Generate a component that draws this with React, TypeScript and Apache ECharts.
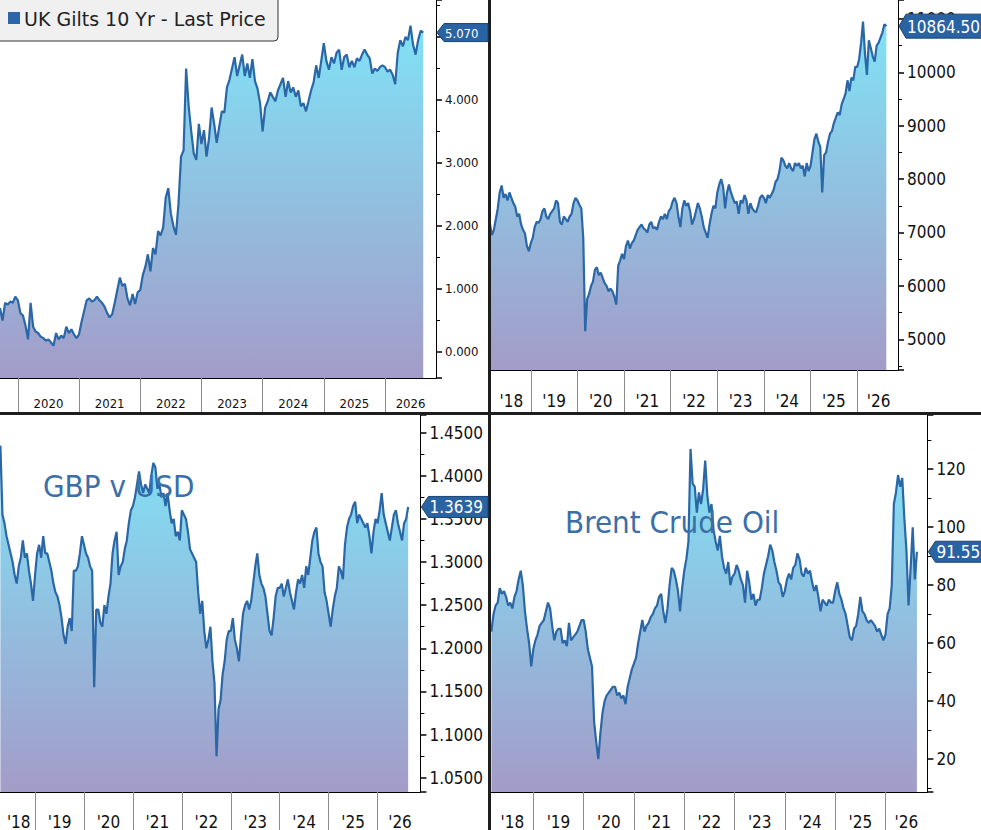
import React, { useEffect, useRef } from "react";
import * as echarts from "echarts";

const FONT = "'DejaVu Sans Condensed', 'DejaVu Sans', sans-serif";
const LEGEND_FONT = "'DejaVu Sans', sans-serif";
const LINE = "#2b67a6";
const TEXT_BLUE = "#3a6fa8";

function semiMonthly(startYear: number, startMonth: number, startDay: number, count: number): string[] {
  const out: string[] = [];
  let y = startYear, m = startMonth, d = startDay;
  for (let i = 0; i < count; i++) {
    out.push(`${y}-${String(m).padStart(2, "0")}-${d === 1 ? "01" : "15"}`);
    if (d === 1) d = 15;
    else { d = 1; m += 1; if (m > 12) { m = 1; y += 1; } }
  }
  return out;
}

// ---- categories (semi-monthly dates) ----
const giltDates = semiMonthly(2019, 9, 15, 172);
const ftseDates = semiMonthly(2018, 2, 15, 211);
const gbpDates = semiMonthly(2018, 4, 15, 207);
const brentDates = semiMonthly(2018, 3, 1, 209);

// ---- series values ----
const giltYield = [
  0.70, 0.50, 0.78, 0.75, 0.80, 0.78, 0.88,
  0.82, 0.62, 0.58, 0.42, 0.20, 0.78, 0.40, 0.32, 0.30, 0.24, 0.22, 0.18,
  0.20, 0.15, 0.10, 0.30, 0.20, 0.26, 0.22, 0.40, 0.30, 0.36, 0.28, 0.22,
  0.28, 0.48, 0.65, 0.82, 0.85, 0.80, 0.82, 0.88, 0.82, 0.78, 0.72, 0.62,
  0.55, 0.60, 0.78, 0.98, 1.18, 1.05, 1.08, 0.85, 0.74, 0.92, 0.76, 0.95,
  0.98, 1.22, 1.35, 1.55, 1.28, 1.65, 1.55, 1.92, 1.85, 1.98, 2.45, 2.60,
  2.20, 2.00, 1.86, 2.35, 3.10, 3.20, 4.50, 3.90, 3.50, 3.15, 3.05, 3.62,
  3.30, 3.52, 3.10, 3.40, 3.88, 3.62, 3.32, 3.58, 3.82, 3.80, 4.20, 4.32,
  4.50, 4.68, 4.38, 4.55, 4.72, 4.38, 4.58, 4.35, 4.65, 4.30, 4.18, 3.95,
  3.50, 3.88, 3.98, 4.12, 4.05, 3.98, 4.15, 4.25, 4.35, 4.05, 4.30, 4.12,
  4.20, 4.05, 4.15, 3.90, 3.95, 3.82, 3.98, 4.15, 4.28, 4.55, 4.35, 4.62,
  4.90, 4.62, 4.48, 4.68, 4.58, 4.75, 4.80, 4.48, 4.68, 4.72, 4.52, 4.62,
  4.52, 4.66, 4.62, 4.72, 4.80, 4.72, 4.66, 4.42, 4.50, 4.46, 4.52, 4.55,
  4.52, 4.45, 4.48, 4.40, 4.25, 4.75, 4.95, 4.85, 5.00, 4.95, 5.18, 4.88,
  4.72, 4.95, 5.10, 5.07,
];

const ftseIndex = [
  7150, 6950, 7050, 7250, 7450, 7750, 7880, 7650, 7720, 7600, 7750, 7650,
  7550, 7480, 7300, 7350, 7150, 7050, 6980, 6750, 6650,
  6800, 6900, 7100, 7200, 7180, 7250, 7400, 7450, 7300, 7250, 7350, 7400,
  7450, 7600, 7550, 7200, 7150, 7300, 7250, 7200, 7300, 7350, 7550, 7650,
  7600, 7520, 7450, 6900, 5150, 5750, 5850, 6000, 6080, 6300, 6350, 6200,
  6250, 6150, 6050, 6000, 5900, 5950, 5900, 5800, 5650, 6380, 6480, 6600,
  6500, 6750, 6850, 6700, 6800, 6850, 6950, 7050, 7100, 7150, 7080, 7050,
  7000, 7150, 7200, 7080, 7100, 7050, 7200, 7300, 7250, 7350, 7250, 7400,
  7450, 7580, 7650, 7550, 7300, 7100, 7450, 7600, 7500, 7550, 7400, 7150,
  7250, 7400, 7550, 7450, 7300, 7100, 7000, 6900, 7150, 7350, 7500, 7450,
  7750, 7900, 8000, 7850, 7450, 7750, 7900, 7750, 7650, 7550, 7580, 7350,
  7600, 7550, 7700, 7600, 7350, 7550, 7450, 7400, 7380, 7500, 7650, 7700,
  7650, 7550, 7700, 7650, 7720, 7800, 7950, 8000, 8150, 8400, 8350, 8250,
  8200, 8300, 8200, 8150, 8300, 8250, 8300, 8200, 8250, 8050, 8300, 8150,
  8250, 8500, 8750, 8850, 8700, 8600, 7750, 8450, 8500, 8700, 8850, 8900,
  9050, 9150, 9250, 9200, 9400, 9500, 9600, 9850, 9650, 9900, 9850, 10100,
  10100, 10250, 10550, 10950, 10350, 9950, 10600, 10450, 10300, 10200, 10500, 10550,
  10650, 10750, 10900, 10864.5,
];

const gbpUsd = [
  1.4350, 1.3550, 1.3450, 1.3300, 1.3200, 1.3100, 1.3000, 1.2850, 1.2750,
  1.2950, 1.3050, 1.3250, 1.3050, 1.3100, 1.2900, 1.2750, 1.2550,
  1.2850, 1.3100, 1.3200, 1.3050, 1.3300, 1.3100, 1.3100, 1.3000, 1.2900, 1.2750, 1.2650, 1.2600,
  1.2500, 1.2350, 1.2150, 1.2050, 1.2250, 1.2350, 1.2200, 1.2900, 1.2900, 1.2950, 1.3100, 1.3300,
  1.3200, 1.3100, 1.3050, 1.2950, 1.2900, 1.1550, 1.2450, 1.2450, 1.2300, 1.2250, 1.2500, 1.2400,
  1.2600, 1.2750, 1.3100, 1.3250, 1.3350, 1.2850, 1.2950, 1.3000, 1.3150, 1.3250, 1.3450, 1.3600,
  1.3650, 1.3750, 1.3900, 1.4050, 1.3900, 1.3800, 1.3900, 1.3850, 1.3800, 1.4000, 1.4150, 1.4100,
  1.3850, 1.3900, 1.3750, 1.3800, 1.3650, 1.3800, 1.3600, 1.3450, 1.3500, 1.3300, 1.3350, 1.3250,
  1.3600, 1.3550, 1.3500, 1.3350, 1.3150, 1.3100, 1.3050, 1.3000, 1.2650, 1.2400, 1.2550, 1.2200,
  1.2000, 1.2100, 1.2250, 1.1850, 1.1600, 1.0750, 1.1300, 1.1400, 1.1700, 1.1850, 1.2100, 1.2200,
  1.2200, 1.2350, 1.2100, 1.2000, 1.1850, 1.2150, 1.2400, 1.2500, 1.2550, 1.2450, 1.2550, 1.2750,
  1.2950, 1.3100, 1.2850, 1.2750, 1.2700, 1.2600, 1.2400, 1.2200, 1.2150, 1.2350, 1.2600, 1.2700,
  1.2700, 1.2750, 1.2600, 1.2700, 1.2800, 1.2650, 1.2550, 1.2450, 1.2650, 1.2800, 1.2750, 1.2850,
  1.2700, 1.2950, 1.2850, 1.3050, 1.3250, 1.3350, 1.3400, 1.3100, 1.3000, 1.2950, 1.2650, 1.2550,
  1.2400, 1.2250, 1.2450, 1.2600, 1.2700, 1.2950, 1.2900, 1.2800, 1.3200, 1.3400, 1.3500, 1.3550,
  1.3650, 1.3700, 1.3450, 1.3550, 1.3500, 1.3450, 1.3400, 1.3450, 1.3300, 1.3100, 1.3350, 1.3500,
  1.3450, 1.3600, 1.3800, 1.3550, 1.3450, 1.3350, 1.3250, 1.3400, 1.3550, 1.3600, 1.3450, 1.3350,
  1.3250, 1.3450, 1.3500, 1.3639,
];

const brentCrude = [
  64, 70, 73, 74, 79, 77, 78, 76, 73, 74, 72, 76, 78, 82, 85, 80, 71, 65, 60, 52,
  58, 61, 63, 66, 67, 68, 71, 74, 72, 66, 61, 64, 65, 65, 60, 61, 59, 67, 61, 62, 63, 64, 66, 68,
  68, 64, 58, 55, 52, 33, 26, 20, 29, 36, 40, 42, 43, 44, 45, 45, 42, 43, 41, 42, 39, 45, 48, 51,
  53, 55, 60, 64, 68, 64, 66, 67, 69, 70, 72, 73, 76, 77, 71, 67, 72, 80, 86, 85, 82, 78, 71, 79,
  85, 89, 95, 127, 115, 114, 105, 112, 108, 113, 123, 111, 105, 108, 99, 95, 92, 97, 90, 86, 84, 88, 80, 83,
  84, 87, 85, 82, 80, 74, 85, 81, 75, 77, 73, 75, 75, 79, 84, 87, 90, 94, 92, 88, 85, 81, 80, 76,
  78, 82, 84, 82, 86, 87, 91, 89, 84, 83, 86, 84, 85, 81, 78, 80, 76, 71, 75, 74, 73, 75, 74, 74,
  78, 81, 77, 75, 72, 70, 66, 62, 61, 65, 66, 70, 76, 71, 70, 68, 67, 68, 67, 66, 64, 65, 63, 61,
  63, 70, 72, 80, 108, 112, 118, 114, 117, 103, 92, 73, 86, 100, 82, 91.55,
];

// ---- texts ----
const legendLabel = "UK Gilts 10 Yr - Last Price";
const gbpTitle = "GBP v USD";
const brentTitle = "Brent Crude Oil";

function yearLabelIndices(cats: string[]): Set<number> {
  const set = new Set<number>();
  const bounds: number[] = [0];
  cats.forEach((c, i) => { if (c.endsWith("-01-01") && i > 0) bounds.push(i); });
  bounds.push(cats.length - 1);
  for (let k = 0; k < bounds.length - 1; k++) {
    const a = bounds[k], b = bounds[k + 1];
    if (b - a < 12) continue;
    set.add(Math.round((a + b) / 2));
  }
  return set;
}

type Panel = {
  cats: string[]; data: number[];
  grid: { left: number; top: number; width: number; height: number };
  yMin: number; yMax: number; split: number; step: number; dec: number;
  yFont: number; xFont: number; tickLen: number; xMargin: number; fullYear: boolean;
  tagH: number; tagFont: number; tagRight: number; tagDec: number;
};

const panels: Panel[] = [
  { cats: giltDates, data: giltYield, grid: { left: 0, top: 0, width: 436, height: 378 },
    yMin: -0.413, yMax: 5.587, split: 6, step: 1, dec: 3, yFont: 13, xFont: 13, tickLen: 35, xMargin: 19,
    fullYear: true, tagH: 18, tagFont: 13, tagRight: 488, tagDec: 3 },
  { cats: ftseDates, data: ftseIndex, grid: { left: 490, top: 0, width: 408, height: 370 },
    yMin: 4425, yMax: 11354, split: 7, step: 1000, dec: 0, yFont: 17, xFont: 17, tickLen: 43, xMargin: 22,
    fullYear: false, tagH: 24, tagFont: 17, tagRight: 990, tagDec: 2 },
  { cats: gbpDates, data: gbpUsd, grid: { left: 0.4, top: 415, width: 420, height: 377 },
    yMin: 1.0334, yMax: 1.4705, split: 9, step: 0.05, dec: 4, yFont: 17, xFont: 17, tickLen: 40, xMargin: 21,
    fullYear: false, tagH: 21, tagFont: 17, tagRight: 488, tagDec: 4 },
  { cats: brentDates, data: brentCrude, grid: { left: 491.4, top: 415, width: 436, height: 377 },
    yMin: 8.7, yMax: 138.7, split: 7, step: 20, dec: 0, yFont: 17, xFont: 17, tickLen: 40, xMargin: 21,
    fullYear: false, tagH: 21, tagFont: 17, tagRight: 990, tagDec: 2 },
];

export default function App() {
  const ref = useRef<HTMLDivElement>(null);
  useEffect(() => {
    document.body.style.margin = "0";
    const el = ref.current!;
    const chart = echarts.init(el, null, { renderer: "svg", width: 981, height: 830 });

    const gradient = () =>
      new echarts.graphic.LinearGradient(0, 0, 0, 1, [
        { offset: 0, color: "#80e2f6" },
        { offset: 1, color: "#a39cc8" },
      ]);

    const option: any = {
      animation: false,
      backgroundColor: "#ffffff",
      textStyle: { fontFamily: FONT },
      grid: panels.map((p) => ({ ...p.grid, containLabel: false })),
      xAxis: panels.map((p, i) => {
        const labelSet = yearLabelIndices(p.cats);
        return {
          type: "category",
          gridIndex: i,
          data: p.cats,
          boundaryGap: false,
          axisLine: { show: true, onZero: false, lineStyle: { color: "#000", width: 1 } },
          axisTick: {
            show: true,
            interval: (_idx: number, val: string) => String(val).endsWith("-01-01"),
            length: p.tickLen,
            lineStyle: { color: "#8c8c8c", width: 1 },
          },
          axisLabel: {
            interval: (idx: number) => labelSet.has(idx),
            formatter: (val: string) => (p.fullYear ? val.slice(0, 4) : "'" + val.slice(2, 4)),
            margin: p.xMargin,
            fontSize: p.xFont,
            fontFamily: FONT,
            color: "#111",
          },
          splitLine: { show: false },
        };
      }),
      yAxis: panels.map((p, i) => ({
        type: "value",
        gridIndex: i,
        position: "right",
        min: p.yMin,
        max: p.yMax,
        splitNumber: p.split,
        scale: true,
        axisLine: { show: true, lineStyle: { color: "#000", width: 1 } },
        axisTick: { show: true, length: 6, lineStyle: { color: "#000", width: 1.5 } },
        minorTick: { show: true, splitNumber: 2, length: 4, lineStyle: { color: "#000", width: 1 } },
        axisLabel: {
          showMinLabel: true,
          showMaxLabel: true,
          margin: 9,
          fontSize: p.yFont,
          fontFamily: FONT,
          color: "#111",
          formatter: (v: number) => {
            const r = v / p.step;
            return Math.abs(r - Math.round(r)) < 1e-6 ? v.toFixed(p.dec) : "";
          },
        },
        splitLine: { show: false },
      })),
      series: panels.map((p, i) => ({
        type: "line",
        xAxisIndex: i,
        yAxisIndex: i,
        data: p.data,
        symbol: "none",
        showSymbol: false,
        silent: true,
        lineStyle: { color: LINE, width: 2.2 },
        itemStyle: { color: LINE },
        areaStyle: { origin: "start", color: gradient(), opacity: 1 },
        z: 2,
      })),
    };

    chart.setOption(option);

    const graphics: any[] = [];
    // panel dividers
    graphics.push({ type: "rect", z: 50, shape: { x: 488, y: 0, width: 3, height: 830 }, style: { fill: "#1e1e1e" } });
    graphics.push({ type: "rect", z: 50, shape: { x: 0, y: 412, width: 981, height: 3 }, style: { fill: "#1e1e1e" } });
    // legend box
    graphics.push({ type: "rect", z: 60, shape: { x: -5, y: -5, width: 283, height: 46, r: 4 }, style: { fill: "#f0f0f0", stroke: "#333", lineWidth: 1 } });
    graphics.push({ type: "rect", z: 61, shape: { x: 8, y: 12, width: 12, height: 12 }, style: { fill: LINE } });
    graphics.push({ type: "text", z: 61, x: 24, y: 19, style: { text: legendLabel, fill: "#222", fontSize: 19, fontFamily: LEGEND_FONT, verticalAlign: "middle", align: "left" } });
    // annotations
    graphics.push({ type: "text", z: 40, x: 43, y: 486, style: { text: gbpTitle, fill: TEXT_BLUE, fontSize: 31, fontFamily: FONT, verticalAlign: "middle", align: "left" } });
    graphics.push({ type: "text", z: 40, x: 565, y: 522, style: { text: brentTitle, fill: TEXT_BLUE, fontSize: 31, fontFamily: FONT, verticalAlign: "middle", align: "left" } });

    // last-price tags
    panels.forEach((p, i) => {
      const lastVal = p.data[p.data.length - 1];
      const pt = chart.convertToPixel({ gridIndex: i } as any, [p.cats.length - 1, lastVal]) as number[];
      const x0 = pt[0] + 1;
      const y = pt[1];
      const h = p.tagH;
      graphics.push({
        type: "polygon", z: 70,
        shape: { points: [[x0, y], [x0 + 7, y - h / 2], [p.tagRight, y - h / 2], [p.tagRight, y + h / 2], [x0 + 7, y + h / 2]] },
        style: { fill: "#2a63a3", stroke: "#1b4272", lineWidth: 1 },
      });
      graphics.push({
        type: "text", z: 71, x: x0 + 8, y: y + 0.5,
        style: { text: lastVal.toFixed(p.tagDec), fill: "#ffffff", fontSize: p.tagFont, fontFamily: FONT, verticalAlign: "middle", align: "left" },
      });
    });

    chart.setOption({ graphic: graphics });
    return () => chart.dispose();
  }, []);

  return (
    <div
      ref={ref}
      style={{ position: "absolute", left: 0, top: 0, width: 981, height: 830, background: "#fff" }}
    />
  );
}
